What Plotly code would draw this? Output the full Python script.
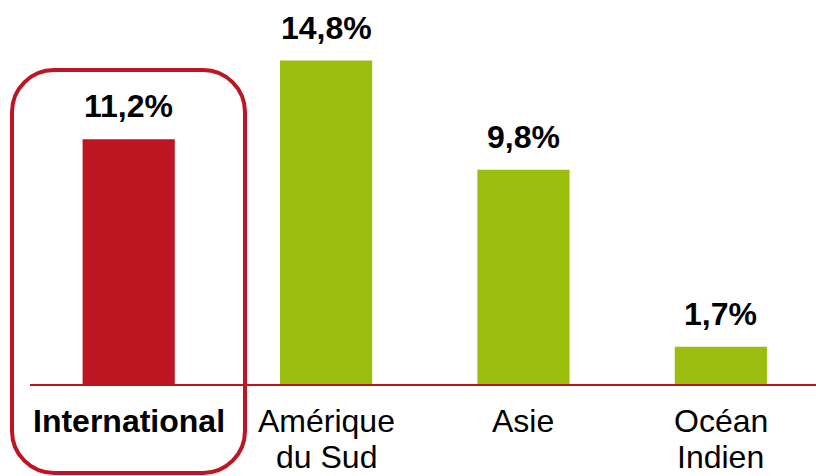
import plotly.graph_objects as go

categories = ["<b>International</b>", "Amérique<br>du Sud", "Asie", "Océan<br>Indien"]
values = [11.2, 14.8, 9.8, 1.7]
value_labels = ["11,2%", "14,8%", "9,8%", "1,7%"]
RED = "#BE1522"
GREEN = "#9BBD0E"
colors = [RED, GREEN, GREEN, GREEN]

W, H = 816, 476
ML, MR, MT, MB = 30, 0, 0, 92
PW, PH = W - ML - MR, H - MT - MB
FONT = "Liberation Sans, Arial, sans-serif"

x = list(range(len(categories)))
fig = go.Figure()
fig.add_trace(go.Bar(x=x, y=values, marker=dict(color=colors, line=dict(width=0)),
                     width=0.467, hoverinfo="skip"))

for xi, v, t in zip(x, values, value_labels):
    fig.add_annotation(x=xi, y=v, text="<b>%s</b>" % t, showarrow=False,
                       yanchor="bottom", yshift=13,
                       font=dict(family=FONT, size=32, color="#000000"))

def px(X):
    return (X - ML) / PW

def py(Y):
    return (H - MB - Y) / PH

# category labels, one annotation per line for tight line spacing
LINE_TOP0, LINE_STEP = 402, 36
for xi, cat in zip(x, categories):
    for j, line in enumerate(cat.split("<br>")):
        fig.add_annotation(x=xi, xref="x", y=py(LINE_TOP0 + j * LINE_STEP), yref="paper",
                           text=line, showarrow=False, yanchor="top", xanchor="center",
                           borderpad=0,
                           font=dict(family=FONT, size=32, color="#000000"))

# rounded highlight frame (pixel geometry)
L, R, T, B, r = 12, 245, 70, 473, 42
k = r * 0.4477  # distance from corner to bezier control point
path = (f"M {px(L+r)},{py(T)} L {px(R-r)},{py(T)} "
        f"C {px(R-k)},{py(T)} {px(R)},{py(T+k)} {px(R)},{py(T+r)} "
        f"L {px(R)},{py(B-r)} "
        f"C {px(R)},{py(B-k)} {px(R-k)},{py(B)} {px(R-r)},{py(B)} "
        f"L {px(L+r)},{py(B)} "
        f"C {px(L+k)},{py(B)} {px(L)},{py(B-k)} {px(L)},{py(B-r)} "
        f"L {px(L)},{py(T+r)} "
        f"C {px(L)},{py(T+k)} {px(L+k)},{py(T)} {px(L+r)},{py(T)} Z")
fig.add_shape(type="path", path=path, xref="paper", yref="paper",
              line=dict(color=RED, width=4), fillcolor="rgba(0,0,0,0)", layer="above")

fig.update_layout(
    width=W, height=H, margin=dict(l=ML, r=MR, t=MT, b=MB, autoexpand=False),
    paper_bgcolor="white", plot_bgcolor="white", showlegend=False,
    font=dict(family=FONT, size=32, color="#000000"),
    xaxis=dict(tickmode="array", tickvals=x, range=[-0.5, 3.482],
               showticklabels=False,
               showline=True, linecolor=RED, linewidth=2, showgrid=False, zeroline=False,
               ticks="", automargin=False),
    yaxis=dict(range=[0, 17.57], visible=False, showgrid=False, zeroline=False,
               automargin=False),
)

fig.write_html("out.html")
